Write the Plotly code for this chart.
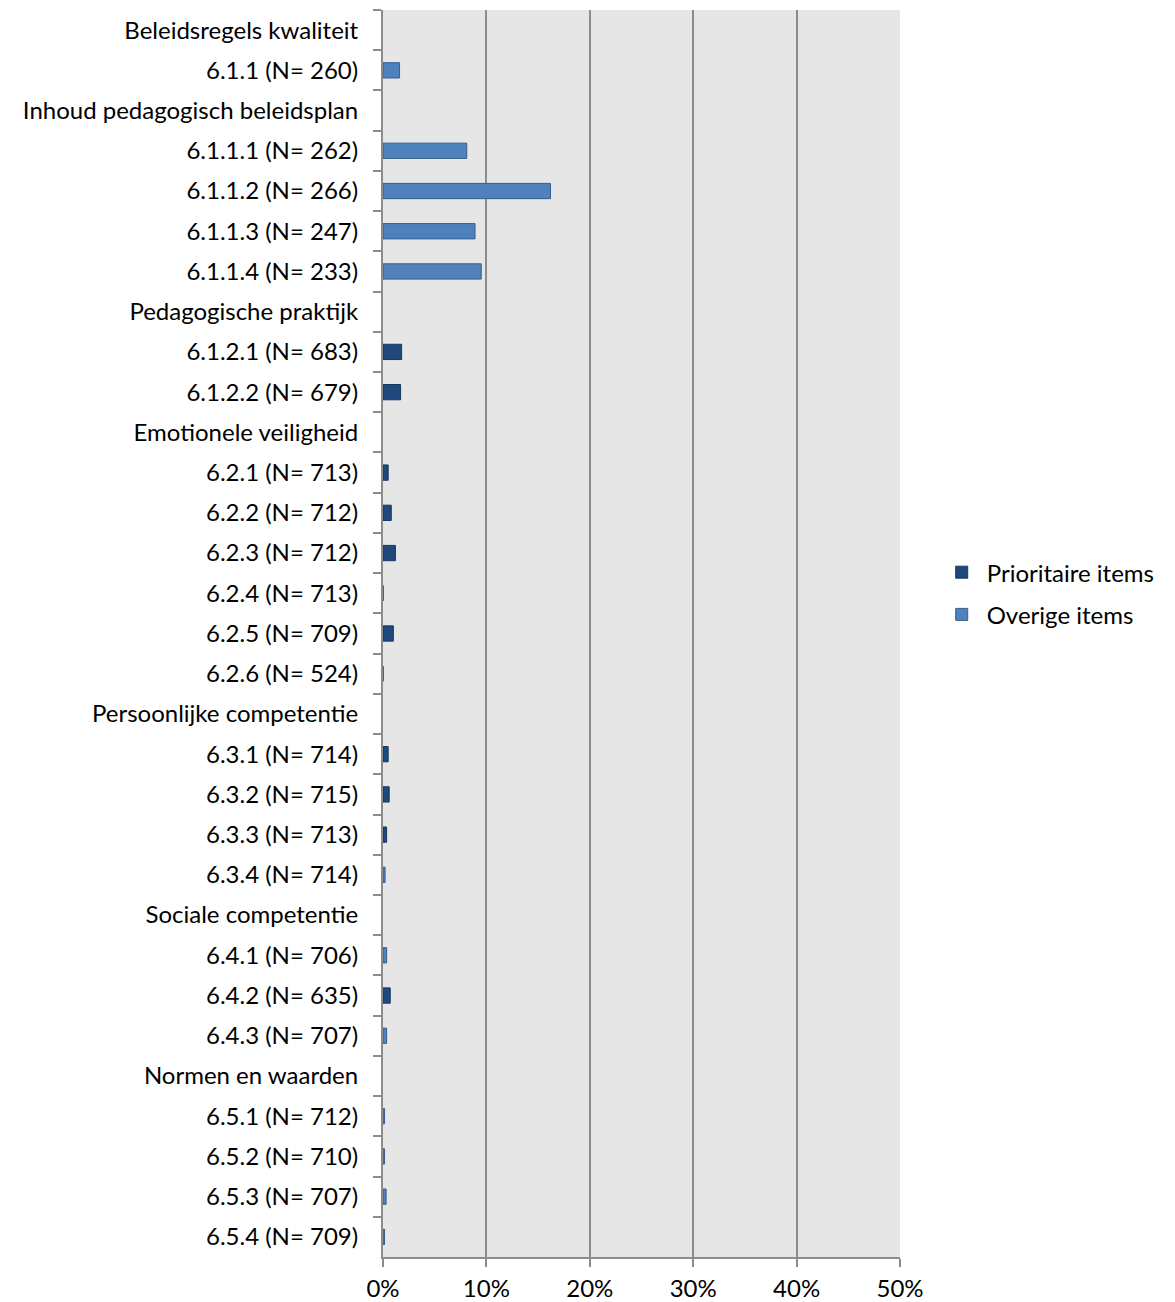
import plotly.graph_objects as go

categories = [
    "Beleidsregels kwaliteit",
    "6.1.1 (N= 260)",
    "Inhoud pedagogisch beleidsplan",
    "6.1.1.1 (N= 262)",
    "6.1.1.2 (N= 266)",
    "6.1.1.3 (N= 247)",
    "6.1.1.4 (N= 233)",
    "Pedagogische praktijk",
    "6.1.2.1 (N= 683)",
    "6.1.2.2 (N= 679)",
    "Emotionele veiligheid",
    "6.2.1 (N= 713)",
    "6.2.2 (N= 712)",
    "6.2.3 (N= 712)",
    "6.2.4 (N= 713)",
    "6.2.5 (N= 709)",
    "6.2.6 (N= 524)",
    "Persoonlijke competentie",
    "6.3.1 (N= 714)",
    "6.3.2 (N= 715)",
    "6.3.3 (N= 713)",
    "6.3.4 (N= 714)",
    "Sociale competentie",
    "6.4.1 (N= 706)",
    "6.4.2 (N= 635)",
    "6.4.3 (N= 707)",
    "Normen en waarden",
    "6.5.1 (N= 712)",
    "6.5.2 (N= 710)",
    "6.5.3 (N= 707)",
    "6.5.4 (N= 709)",
]

# Values in fractions (0.01 = 1%)
prioritaire = [
    None, None, None, None, None, None, None, None,
    0.018, 0.017,
    None, 0.005, 0.008, 0.012, 0.0, 0.010, 0.0,
    None, 0.005, 0.006, 0.0035, None,
    None, None, 0.007, None,
    None, None, None, None, None,
]
overige = [
    None, 0.016, None, 0.081, 0.162, 0.089, 0.095, None,
    None, None,
    None, None, None, None, None, None, None,
    None, None, None, None, 0.002,
    None, 0.0035, None, 0.0035,
    None, 0.0015, 0.0015, 0.003, 0.0015,
]

x_ticks = [0, 0.1, 0.2, 0.3, 0.4, 0.5]

font_family = "Lato, Carlito, Calibri, sans-serif"
FS = 24

fig = go.Figure()
fig.add_trace(go.Bar(
    y=categories, x=prioritaire, orientation="h", name="Prioritaire items",
    marker=dict(color="#1F497D", line=dict(color="#17375E", width=1)),
    width=0.38, legendgroup="a",
))
fig.add_trace(go.Bar(
    y=categories, x=overige, orientation="h", name="Overige items",
    marker=dict(color="#4F81BD", line=dict(color="#385D8A", width=1)),
    width=0.38, legendgroup="b",
))

fig.update_layout(
    width=1175, height=1302,
    barmode="overlay",
    margin=dict(l=383, r=275, t=10, b=45, autoexpand=False),
    paper_bgcolor="white",
    plot_bgcolor="#E6E6E6",
    font=dict(family=font_family, size=FS, color="#000000"),
    showlegend=True,
    legend=dict(
        x=1.071, xanchor="left", y=0.532, yanchor="middle",
        traceorder="grouped", tracegroupgap=8, itemwidth=40,
        font=dict(family=font_family, size=FS),
        bgcolor="rgba(0,0,0,0)",
    ),
    xaxis=dict(
        range=[0, 0.5], tickvals=x_ticks, tickformat=".0%",
        showgrid=True, gridcolor="#8C8C8C", gridwidth=1.5,
        showline=True, linecolor="#8C8C8C", linewidth=2,
        ticks="outside", ticklen=8, tickcolor="#8C8C8C", tickwidth=2,
        zeroline=False, fixedrange=True, automargin=False,
        ticklabelstandoff=1,
        tickfont=dict(family=font_family, size=FS),
    ),
    yaxis=dict(
        autorange="reversed", type="category",
        categoryorder="array", categoryarray=categories,
        showline=True, linecolor="#8C8C8C", linewidth=2,
        ticks="outside", ticklen=8, tickcolor="#8C8C8C", tickwidth=2,
        tickson="boundaries", showgrid=False, automargin=False,
        ticklabelstandoff=18, fixedrange=True,
        tickfont=dict(family=font_family, size=FS),
    ),
)

fig.write_html(
    "out.html",
    config={"displayModeBar": False},
    post_script="document.body.style.margin='0';",
)
